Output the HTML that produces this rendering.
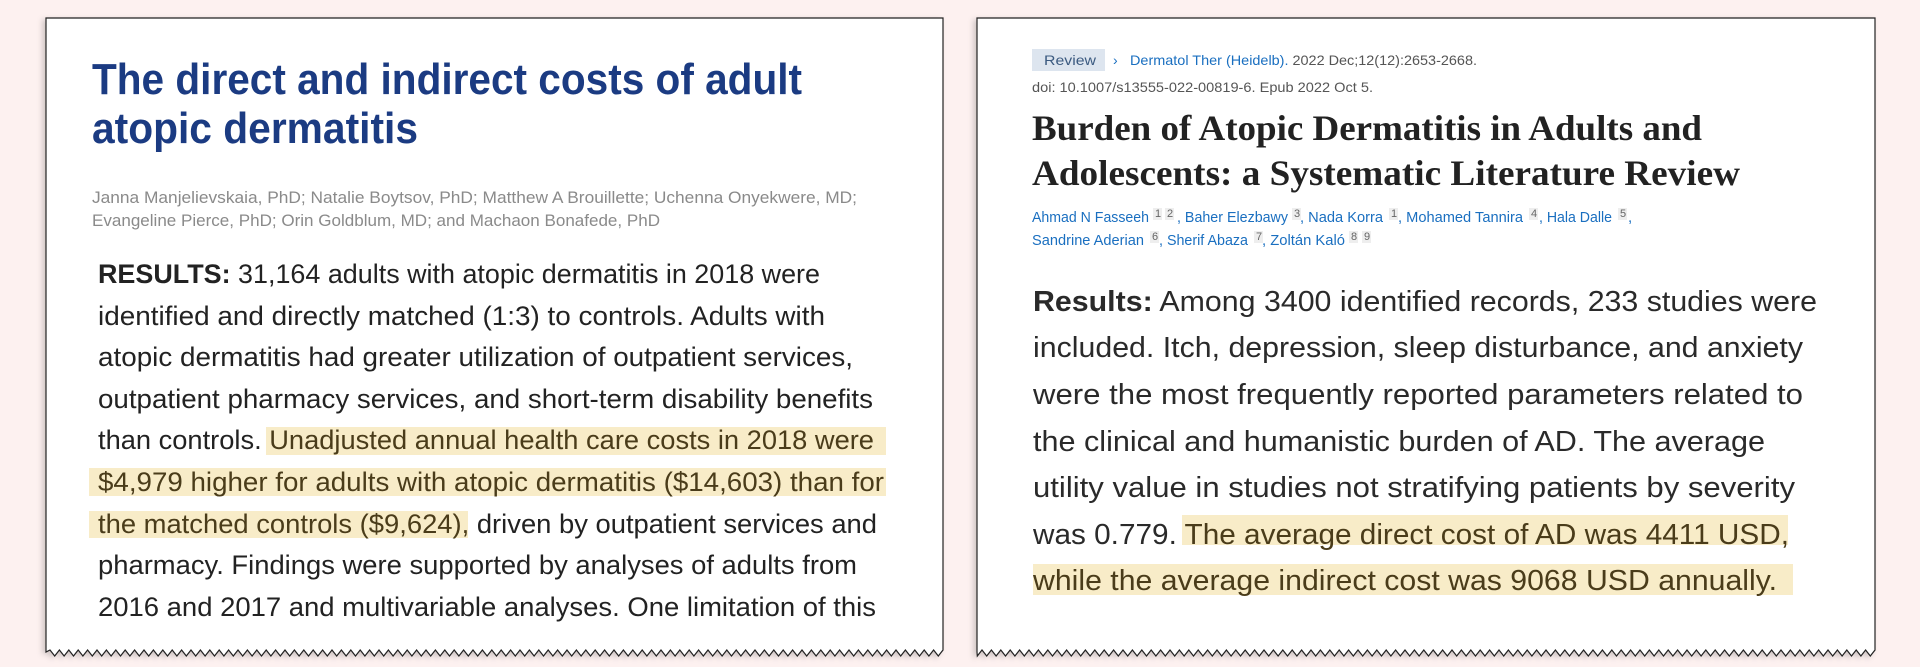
<!DOCTYPE html>
<html><head><meta charset="utf-8"><style>
html,body{margin:0;padding:0;background:#fdf1f0;}
svg{display:block}
</style></head><body>
<svg id="s" width="1920" height="667" viewBox="0 0 1920 667" xmlns="http://www.w3.org/2000/svg">
<defs>
<filter id="sh" x="-5%" y="-5%" width="110%" height="110%"><feDropShadow dx="-3" dy="2" stdDeviation="3" flood-color="#000" flood-opacity="0.18"/></filter>
</defs>
<rect width="1920" height="667" fill="#fdf1f0"/>
<g id="cards"></g>

<!-- LEFT CARD -->
<rect x="266" y="427" width="620" height="28" fill="#f8ecc8"/>
<rect x="89" y="468" width="797" height="28" fill="#f8ecc8"/>
<rect x="89" y="511" width="379" height="27" fill="#f8ecc8"/>

<g font-family="'Liberation Sans Narrow','Liberation Sans',sans-serif">
<text x="92" y="94" font-size="44" font-weight="bold" fill="#1b3b82" textLength="710" lengthAdjust="spacingAndGlyphs">The direct and indirect costs of adult</text>
<text x="92" y="143" font-size="44" font-weight="bold" fill="#1b3b82" textLength="326" lengthAdjust="spacingAndGlyphs">atopic dermatitis</text>
<text x="92" y="203" font-size="17" fill="#8a8a8a" textLength="765" lengthAdjust="spacingAndGlyphs">Janna Manjelievskaia, PhD; Natalie Boytsov, PhD; Matthew A Brouillette; Uchenna Onyekwere, MD;</text>
<text x="92" y="226" font-size="17" fill="#8a8a8a" textLength="568" lengthAdjust="spacingAndGlyphs">Evangeline Pierce, PhD; Orin Goldblum, MD; and Machaon Bonafede, PhD</text>
</g>
<g font-family="'Liberation Sans',sans-serif" font-size="27" fill="#222">
<text x="98" y="283" textLength="722" lengthAdjust="spacingAndGlyphs"><tspan font-weight="bold">RESULTS:</tspan> 31,164 adults with atopic dermatitis in 2018 were</text>
<text x="98" y="325" textLength="727" lengthAdjust="spacingAndGlyphs">identified and directly matched (1:3) to controls. Adults with</text>
<text x="98" y="366" textLength="755" lengthAdjust="spacingAndGlyphs">atopic dermatitis had greater utilization of outpatient services,</text>
<text x="98" y="408" textLength="775" lengthAdjust="spacingAndGlyphs">outpatient pharmacy services, and short-term disability benefits</text>
<text x="98" y="449" textLength="776" lengthAdjust="spacingAndGlyphs">than controls. <tspan fill="#4a3c1a">Unadjusted annual health care costs in 2018 were</tspan></text>
<text x="98" y="491" textLength="786" lengthAdjust="spacingAndGlyphs" fill="#4a3c1a">$4,979 higher for adults with atopic dermatitis ($14,603) than for</text>
<text x="98" y="533" textLength="779" lengthAdjust="spacingAndGlyphs"><tspan fill="#4a3c1a">the matched controls ($9,624),</tspan> driven by outpatient services and</text>
<text x="98" y="574" textLength="759" lengthAdjust="spacingAndGlyphs">pharmacy. Findings were supported by analyses of adults from</text>
<text x="98" y="616" textLength="778" lengthAdjust="spacingAndGlyphs">2016 and 2017 and multivariable analyses. One limitation of this</text>
</g>

<!-- RIGHT CARD -->
<rect x="1032" y="49" width="73" height="22" fill="#dde5ef"/>
<g font-family="'Liberation Sans',sans-serif" font-size="14">
<text x="1044" y="65" fill="#3b5a80" textLength="52" lengthAdjust="spacingAndGlyphs">Review</text>
<text x="1113" y="65" fill="#1a6fc0">›</text>
<text x="1130" y="65" fill="#555" textLength="347" lengthAdjust="spacingAndGlyphs"><tspan fill="#1a6fc0">Dermatol Ther (Heidelb).</tspan> 2022 Dec;12(12):2653-2668.</text>
<text x="1032" y="92" fill="#555" textLength="341" lengthAdjust="spacingAndGlyphs">doi: 10.1007/s13555-022-00819-6. Epub 2022 Oct 5.</text>
</g>
<g font-family="'Liberation Serif',serif" font-size="36" font-weight="bold" fill="#222">
<text x="1032" y="140" textLength="670" lengthAdjust="spacingAndGlyphs">Burden of Atopic Dermatitis in Adults and</text>
<text x="1032" y="185" textLength="708" lengthAdjust="spacingAndGlyphs">Adolescents: a Systematic Literature Review</text>
</g>
<g font-family="'Liberation Sans Narrow','Liberation Sans',sans-serif" font-size="15" fill="#1a6fc0">
<rect x="1153" y="208" width="9" height="12" fill="#eee"/><rect x="1165" y="208" width="9" height="12" fill="#eee"/>
<rect x="1292" y="208" width="9" height="12" fill="#eee"/><rect x="1389" y="208" width="9" height="12" fill="#eee"/>
<rect x="1529" y="208" width="9" height="12" fill="#eee"/><rect x="1618" y="208" width="9" height="12" fill="#eee"/>
<rect x="1150" y="231" width="9" height="12" fill="#eee"/><rect x="1254" y="231" width="9" height="12" fill="#eee"/>
<rect x="1349" y="231" width="9" height="12" fill="#eee"/><rect x="1362" y="231" width="9" height="12" fill="#eee"/>
<text x="1032" y="222" textLength="117" lengthAdjust="spacingAndGlyphs">Ahmad N Fasseeh</text>
<text x="1155" y="217" font-size="11" fill="#666">1</text><text x="1167" y="217" font-size="11" fill="#666">2</text>
<text x="1177" y="222" textLength="111" lengthAdjust="spacingAndGlyphs">, Baher Elezbawy</text>
<text x="1294" y="217" font-size="11" fill="#666">3</text>
<text x="1300" y="222" textLength="83" lengthAdjust="spacingAndGlyphs">, Nada Korra</text>
<text x="1391" y="217" font-size="11" fill="#666">1</text>
<text x="1398" y="222" textLength="125" lengthAdjust="spacingAndGlyphs">, Mohamed Tannira</text>
<text x="1531" y="217" font-size="11" fill="#666">4</text>
<text x="1539" y="222" textLength="73" lengthAdjust="spacingAndGlyphs">, Hala Dalle</text>
<text x="1620" y="217" font-size="11" fill="#666">5</text>
<text x="1628" y="222">,</text>
<text x="1032" y="245" textLength="112" lengthAdjust="spacingAndGlyphs">Sandrine Aderian</text>
<text x="1152" y="240" font-size="11" fill="#666">6</text>
<text x="1159" y="245" textLength="89" lengthAdjust="spacingAndGlyphs">, Sherif Abaza</text>
<text x="1256" y="240" font-size="11" fill="#666">7</text>
<text x="1262" y="245" textLength="83" lengthAdjust="spacingAndGlyphs">, Zoltán Kaló</text>
<text x="1351" y="240" font-size="11" fill="#666">8</text><text x="1364" y="240" font-size="11" fill="#666">9</text>
</g>
<rect x="1182" y="515" width="606" height="30" fill="#f8ecc8"/>
<rect x="1033" y="564" width="760" height="31" fill="#f8ecc8"/>
<g font-family="'Liberation Sans',sans-serif" font-size="29" fill="#2a2a2a">
<text x="1033" y="311" textLength="784" lengthAdjust="spacingAndGlyphs"><tspan font-weight="bold">Results:</tspan> Among 3400 identified records, 233 studies were</text>
<text x="1033" y="357" textLength="770" lengthAdjust="spacingAndGlyphs">included. Itch, depression, sleep disturbance, and anxiety</text>
<text x="1033" y="404" textLength="770" lengthAdjust="spacingAndGlyphs">were the most frequently reported parameters related to</text>
<text x="1033" y="451" textLength="732" lengthAdjust="spacingAndGlyphs">the clinical and humanistic burden of AD. The average</text>
<text x="1033" y="497" textLength="762" lengthAdjust="spacingAndGlyphs">utility value in studies not stratifying patients by severity</text>
<text x="1033" y="544" textLength="756" lengthAdjust="spacingAndGlyphs">was 0.779. <tspan fill="#4a3c1a">The average direct cost of AD was 4411 USD,</tspan></text>
<text x="1033" y="590" textLength="744" lengthAdjust="spacingAndGlyphs" fill="#4a3c1a">while the average indirect cost was 9068 USD annually.</text>
</g>
</svg>
<script>
(function(){
 var ns="http://www.w3.org/2000/svg";
 function card(x0,x1){
  var d="M"+x0+",18 H"+x1+" V650";
  var x=x1, up=true;
  while(x-4.7>x0){x-=4.7;d+=" L"+x.toFixed(1)+","+(up?656:650);up=!up;}
  d+=" L"+x0+",652 Z";
  var p=document.createElementNS(ns,"path");
  p.setAttribute("d",d);p.setAttribute("fill","#fff");p.setAttribute("stroke","#222");
  p.setAttribute("stroke-width","1.2");p.setAttribute("filter","url(#sh)");
  document.getElementById("cards").appendChild(p);
 }
 card(46,943);card(977,1875);
})();
</script>
</body></html>
